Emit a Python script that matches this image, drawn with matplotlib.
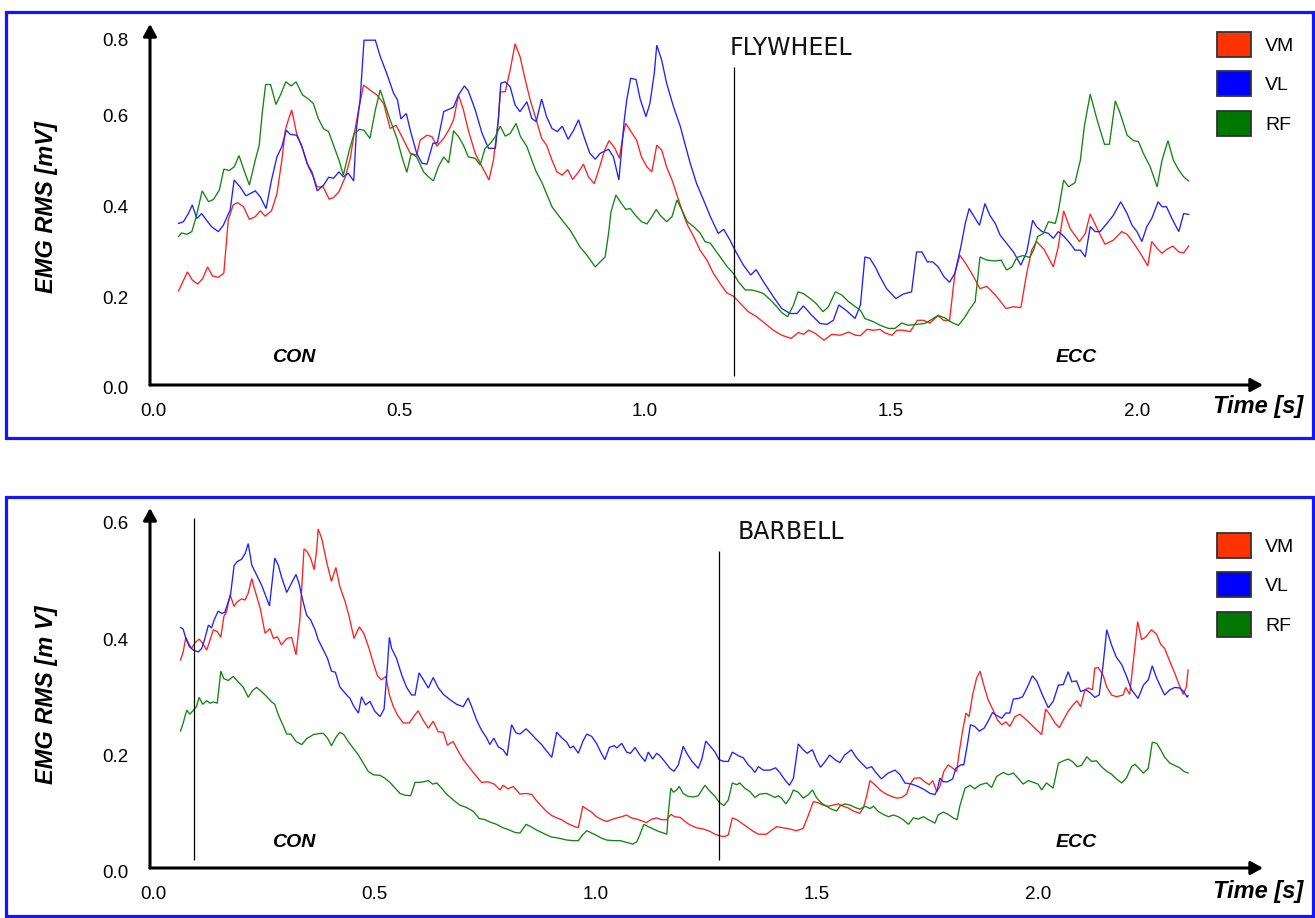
import matplotlib
matplotlib.use("Agg")
import matplotlib.pyplot as plt
import numpy as np
from matplotlib.patches import Rectangle, Patch
from matplotlib.transforms import ScaledTranslation

plt.rcParams['font.family'] = ['Liberation Sans', 'DejaVu Sans']

# ---------------- data ----------------
series_names = ['VM', 'VL', 'RF']
x_ticks = [0.0, 0.5, 1.0, 1.5, 2.0]
x_tick_labels = ['0.0', '0.5', '1.0', '1.5', '2.0']
fly_y_tick_labels = ['0.0', '0.2', '0.4', '0.6', '0.8']
bar_y_tick_labels = ['0.0', '0.2', '0.4', '0.6']

# FLYWHEEL (time s, EMG RMS mV)
fly_vm = [(0.058,0.208),(0.076,0.250),(0.086,0.232),(0.097,0.223),(0.107,0.235),(0.117,0.261),(0.127,0.241),(0.139,0.238),(0.150,0.247),(0.159,0.364),(0.169,0.398),(0.178,0.403),(0.190,0.394),(0.202,0.366),(0.214,0.372),(0.224,0.385),(0.234,0.373),(0.247,0.385),(0.258,0.423),(0.268,0.497),(0.275,0.563),(0.280,0.582),(0.288,0.608),(0.298,0.556),(0.312,0.516),(0.322,0.482),(0.332,0.460),(0.339,0.438),(0.352,0.438),(0.364,0.411),(0.373,0.414),(0.384,0.427),(0.397,0.460),(0.407,0.501),(0.414,0.549),(0.424,0.608),(0.434,0.663),(0.447,0.652),(0.461,0.641),(0.475,0.622),(0.488,0.567),(0.500,0.574),(0.512,0.549),(0.529,0.512),(0.542,0.508),(0.549,0.541),(0.563,0.552),(0.573,0.549),(0.583,0.528),(0.597,0.545),(0.607,0.563),(0.617,0.586),(0.627,0.641),(0.637,0.608),(0.647,0.563),(0.661,0.512),(0.675,0.482),(0.689,0.453),(0.698,0.497),(0.708,0.586),(0.712,0.648),(0.722,0.648),(0.732,0.696),(0.742,0.754),(0.752,0.726),(0.762,0.678),(0.772,0.633),(0.785,0.586),(0.796,0.545),(0.806,0.530),(0.817,0.497),(0.827,0.471),(0.838,0.464),(0.849,0.476),(0.859,0.454),(0.871,0.471),(0.881,0.488),(0.891,0.460),(0.903,0.445),(0.915,0.486),(0.924,0.519),(0.933,0.540),(0.945,0.523),(0.954,0.501),(0.962,0.556),(0.967,0.578),(0.976,0.563),(0.989,0.541),(0.999,0.504),(1.010,0.482),(1.020,0.471),(1.030,0.530),(1.040,0.519),(1.050,0.482),(1.061,0.453),(1.071,0.420),(1.081,0.387),(1.091,0.357),(1.105,0.328),(1.118,0.298),(1.132,0.276),(1.145,0.247),(1.159,0.224),(1.172,0.204),(1.186,0.196),(1.200,0.180),(1.216,0.162),(1.233,0.151),(1.250,0.136),(1.267,0.121),(1.284,0.110),(1.303,0.103),(1.318,0.116),(1.328,0.112),(1.339,0.121),(1.352,0.114),(1.370,0.099),(1.386,0.112),(1.403,0.110),(1.420,0.117),(1.434,0.110),(1.444,0.109),(1.457,0.123),(1.470,0.121),(1.484,0.123),(1.494,0.115),(1.508,0.110),(1.518,0.121),(1.531,0.121),(1.545,0.118),(1.560,0.143),(1.572,0.143),(1.585,0.137),(1.602,0.153),(1.613,0.143),(1.625,0.142),(1.636,0.247),(1.646,0.287),(1.657,0.270),(1.670,0.247),(1.687,0.213),(1.701,0.218),(1.718,0.199),(1.740,0.169),(1.755,0.173),(1.770,0.171),(1.782,0.247),(1.792,0.298),(1.802,0.317),(1.817,0.300),(1.836,0.261),(1.846,0.305),(1.857,0.385),(1.870,0.346),(1.889,0.317),(1.901,0.335),(1.911,0.378),(1.925,0.346),(1.941,0.311),(1.958,0.320),(1.975,0.339),(1.986,0.333),(1.999,0.314),(2.013,0.291),(2.028,0.263),(2.036,0.317),(2.047,0.302),(2.057,0.291),(2.067,0.300),(2.079,0.307),(2.091,0.294),(2.101,0.292),(2.111,0.307)]

fly_vl = [(0.058,0.357),(0.068,0.361),(0.078,0.379),(0.086,0.398),(0.095,0.368),(0.105,0.379),(0.115,0.364),(0.125,0.350),(0.139,0.339),(0.149,0.353),(0.163,0.387),(0.171,0.453),(0.183,0.438),(0.195,0.418),(0.214,0.429),(0.224,0.416),(0.236,0.390),(0.247,0.453),(0.258,0.504),(0.268,0.527),(0.277,0.563),(0.285,0.554),(0.298,0.552),(0.308,0.530),(0.319,0.490),(0.329,0.471),(0.340,0.429),(0.353,0.442),(0.363,0.459),(0.373,0.457),(0.384,0.471),(0.393,0.460),(0.403,0.468),(0.414,0.451),(0.420,0.571),(0.427,0.630),(0.435,0.762),(0.458,0.762),(0.468,0.726),(0.481,0.689),(0.495,0.645),(0.503,0.630),(0.510,0.588),(0.521,0.600),(0.529,0.563),(0.542,0.512),(0.553,0.490),(0.563,0.488),(0.575,0.534),(0.584,0.535),(0.597,0.604),(0.617,0.614),(0.627,0.641),(0.639,0.661),(0.647,0.650),(0.661,0.608),(0.675,0.556),(0.688,0.523),(0.702,0.523),(0.708,0.586),(0.713,0.667),(0.722,0.670),(0.732,0.659),(0.742,0.619),(0.752,0.604),(0.766,0.626),(0.776,0.589),(0.785,0.582),(0.796,0.632),(0.806,0.593),(0.817,0.567),(0.828,0.560),(0.838,0.572),(0.850,0.543),(0.861,0.563),(0.871,0.586),(0.882,0.549),(0.894,0.512),(0.905,0.499),(0.915,0.512),(0.932,0.521),(0.942,0.504),(0.953,0.453),(0.959,0.527),(0.964,0.586),(0.969,0.630),(0.977,0.678),(0.988,0.675),(0.996,0.633),(1.008,0.593),(1.016,0.622),(1.025,0.689),(1.030,0.751),(1.040,0.718),(1.050,0.667),(1.064,0.615),(1.078,0.571),(1.088,0.530),(1.098,0.490),(1.111,0.445),(1.125,0.409),(1.139,0.372),(1.155,0.335),(1.166,0.344),(1.179,0.320),(1.189,0.298),(1.206,0.265),(1.221,0.243),(1.232,0.255),(1.247,0.228),(1.267,0.195),(1.284,0.169),(1.301,0.158),(1.315,0.158),(1.328,0.175),(1.345,0.154),(1.362,0.136),(1.376,0.134),(1.389,0.143),(1.400,0.177),(1.417,0.163),(1.433,0.147),(1.444,0.177),(1.453,0.283),(1.463,0.280),(1.474,0.261),(1.484,0.239),(1.497,0.213),(1.516,0.191),(1.531,0.201),(1.548,0.206),(1.558,0.294),(1.569,0.294),(1.580,0.272),(1.591,0.272),(1.602,0.261),(1.614,0.239),(1.625,0.227),(1.636,0.247),(1.648,0.305),(1.657,0.357),(1.665,0.390),(1.675,0.372),(1.686,0.353),(1.697,0.401),(1.707,0.375),(1.718,0.357),(1.728,0.331),(1.741,0.313),(1.755,0.294),(1.770,0.265),(1.782,0.294),(1.794,0.364),(1.802,0.350),(1.813,0.339),(1.826,0.335),(1.836,0.324),(1.846,0.339),(1.858,0.328),(1.870,0.313),(1.880,0.298),(1.891,0.298),(1.901,0.283),(1.911,0.350),(1.921,0.339),(1.931,0.339),(1.945,0.357),(1.958,0.375),(1.973,0.405),(1.986,0.379),(1.996,0.353),(2.006,0.339),(2.016,0.317),(2.026,0.350),(2.036,0.368),(2.049,0.405),(2.057,0.394),(2.066,0.394),(2.077,0.368),(2.091,0.339),(2.101,0.379),(2.111,0.377)]

fly_rf = [(0.058,0.328),(0.064,0.336),(0.075,0.333),(0.085,0.339),(0.094,0.372),(0.106,0.429),(0.119,0.405),(0.129,0.410),(0.141,0.431),(0.150,0.477),(0.161,0.474),(0.171,0.482),(0.181,0.507),(0.191,0.475),(0.202,0.442),(0.214,0.497),(0.222,0.530),(0.228,0.600),(0.235,0.664),(0.245,0.664),(0.256,0.620),(0.266,0.643),(0.276,0.670),(0.287,0.661),(0.297,0.670),(0.310,0.641),(0.322,0.632),(0.332,0.622),(0.342,0.589),(0.353,0.566),(0.363,0.560),(0.373,0.530),(0.384,0.497),(0.393,0.464),(0.405,0.519),(0.415,0.556),(0.426,0.565),(0.435,0.563),(0.447,0.545),(0.458,0.608),(0.468,0.652),(0.478,0.619),(0.488,0.586),(0.502,0.545),(0.512,0.504),(0.522,0.470),(0.531,0.512),(0.542,0.504),(0.556,0.471),(0.566,0.460),(0.576,0.451),(0.586,0.482),(0.597,0.504),(0.607,0.491),(0.617,0.562),(0.627,0.549),(0.637,0.530),(0.647,0.504),(0.661,0.501),(0.671,0.486),(0.681,0.523),(0.692,0.534),(0.702,0.549),(0.712,0.572),(0.722,0.550),(0.732,0.556),(0.744,0.578),(0.753,0.549),(0.766,0.527),(0.776,0.497),(0.785,0.471),(0.796,0.449),(0.806,0.423),(0.817,0.394),(0.830,0.375),(0.840,0.361),(0.854,0.342),(0.864,0.324),(0.874,0.305),(0.888,0.287),(0.905,0.261),(0.915,0.272),(0.925,0.283),(0.932,0.335),(0.937,0.383),(0.947,0.420),(0.957,0.403),(0.967,0.388),(0.976,0.390),(0.989,0.372),(0.999,0.361),(1.010,0.356),(1.020,0.372),(1.029,0.388),(1.037,0.375),(1.050,0.361),(1.061,0.372),(1.071,0.409),(1.081,0.387),(1.092,0.361),(1.105,0.350),(1.118,0.336),(1.128,0.317),(1.139,0.313),(1.149,0.298),(1.159,0.283),(1.172,0.263),(1.186,0.246),(1.196,0.228),(1.210,0.210),(1.223,0.210),(1.237,0.206),(1.247,0.202),(1.261,0.188),(1.274,0.173),(1.284,0.160),(1.296,0.151),(1.308,0.177),(1.317,0.206),(1.328,0.202),(1.342,0.191),(1.354,0.180),(1.368,0.162),(1.379,0.173),(1.393,0.206),(1.406,0.199),(1.420,0.184),(1.434,0.173),(1.444,0.165),(1.453,0.147),(1.470,0.140),(1.484,0.132),(1.501,0.125),(1.514,0.125),(1.528,0.137),(1.541,0.132),(1.558,0.134),(1.575,0.136),(1.589,0.145),(1.602,0.154),(1.616,0.148),(1.630,0.138),(1.643,0.132),(1.655,0.148),(1.667,0.169),(1.677,0.184),(1.682,0.232),(1.687,0.283),(1.701,0.276),(1.718,0.274),(1.730,0.276),(1.741,0.254),(1.752,0.261),(1.762,0.282),(1.774,0.286),(1.788,0.282),(1.796,0.298),(1.804,0.328),(1.816,0.335),(1.826,0.361),(1.840,0.357),(1.846,0.383),(1.857,0.453),(1.867,0.438),(1.880,0.447),(1.891,0.497),(1.899,0.571),(1.911,0.643),(1.925,0.586),(1.940,0.532),(1.950,0.532),(1.962,0.628),(1.972,0.600),(1.986,0.552),(1.999,0.540),(2.009,0.538),(2.019,0.512),(2.033,0.482),(2.047,0.438),(2.057,0.497),(2.069,0.540),(2.080,0.497),(2.091,0.475),(2.101,0.460),(2.111,0.451)]

# BARBELL (time s, EMG RMS mV)
bar_vm = [(0.069,0.357),(0.075,0.371),(0.081,0.396),(0.089,0.383),(0.094,0.377),(0.102,0.387),(0.111,0.393),(0.119,0.386),(0.128,0.374),(0.136,0.392),(0.143,0.409),(0.152,0.406),(0.160,0.396),(0.167,0.432),(0.173,0.440),(0.181,0.469),(0.190,0.449),(0.197,0.457),(0.207,0.462),(0.215,0.460),(0.222,0.472),(0.230,0.497),(0.237,0.477),(0.249,0.446),(0.260,0.403),(0.271,0.411),(0.279,0.394),(0.288,0.397),(0.297,0.383),(0.309,0.394),(0.320,0.396),(0.330,0.366),(0.339,0.429),(0.348,0.548),(0.355,0.543),(0.363,0.532),(0.371,0.512),(0.377,0.549),(0.380,0.582),(0.388,0.566),(0.399,0.526),(0.410,0.492),(0.420,0.516),(0.429,0.483),(0.441,0.457),(0.450,0.432),(0.461,0.394),(0.473,0.414),(0.483,0.403),(0.495,0.377),(0.505,0.351),(0.514,0.330),(0.523,0.323),(0.533,0.329),(0.541,0.297),(0.550,0.277),(0.559,0.263),(0.572,0.249),(0.586,0.249),(0.596,0.260),(0.606,0.270),(0.617,0.254),(0.629,0.240),(0.640,0.252),(0.651,0.234),(0.663,0.233),(0.672,0.211),(0.685,0.217),(0.697,0.200),(0.708,0.186),(0.723,0.171),(0.738,0.157),(0.749,0.147),(0.764,0.148),(0.778,0.144),(0.791,0.134),(0.798,0.142),(0.809,0.136),(0.821,0.140),(0.836,0.127),(0.851,0.128),(0.863,0.126),(0.874,0.115),(0.885,0.106),(0.896,0.097),(0.908,0.090),(0.919,0.086),(0.930,0.083),(0.942,0.077),(0.957,0.072),(0.968,0.069),(0.978,0.106),(0.987,0.101),(0.998,0.096),(1.009,0.088),(1.021,0.083),(1.032,0.080),(1.043,0.083),(1.055,0.086),(1.066,0.088),(1.077,0.091),(1.088,0.086),(1.100,0.084),(1.111,0.081),(1.122,0.078),(1.134,0.084),(1.145,0.086),(1.156,0.083),(1.168,0.083),(1.177,0.092),(1.186,0.088),(1.198,0.087),(1.209,0.080),(1.220,0.074),(1.235,0.069),(1.250,0.067),(1.265,0.063),(1.277,0.058),(1.288,0.055),(1.299,0.054),(1.307,0.057),(1.316,0.086),(1.326,0.083),(1.341,0.075),(1.352,0.069),(1.363,0.063),(1.375,0.058),(1.393,0.058),(1.405,0.065),(1.416,0.071),(1.431,0.069),(1.446,0.067),(1.461,0.064),(1.476,0.068),(1.488,0.091),(1.499,0.114),(1.510,0.112),(1.521,0.108),(1.533,0.106),(1.544,0.108),(1.555,0.110),(1.567,0.106),(1.578,0.103),(1.589,0.098),(1.604,0.094),(1.612,0.103),(1.620,0.125),(1.627,0.150),(1.638,0.143),(1.650,0.134),(1.661,0.128),(1.672,0.124),(1.687,0.120),(1.699,0.121),(1.710,0.127),(1.717,0.143),(1.727,0.154),(1.740,0.155),(1.751,0.148),(1.761,0.143),(1.769,0.150),(1.778,0.131),(1.785,0.140),(1.794,0.166),(1.804,0.177),(1.815,0.171),(1.823,0.166),(1.829,0.200),(1.836,0.234),(1.844,0.266),(1.851,0.260),(1.859,0.297),(1.868,0.326),(1.876,0.338),(1.883,0.317),(1.894,0.289),(1.906,0.270),(1.915,0.254),(1.925,0.246),(1.934,0.251),(1.943,0.243),(1.955,0.260),(1.966,0.264),(1.981,0.254),(1.996,0.243),(2.015,0.229),(2.024,0.273),(2.034,0.263),(2.045,0.249),(2.055,0.241),(2.064,0.254),(2.075,0.269),(2.086,0.280),(2.095,0.287),(2.103,0.277),(2.113,0.306),(2.120,0.309),(2.130,0.306),(2.135,0.343),(2.143,0.344),(2.154,0.331),(2.162,0.311),(2.173,0.297),(2.184,0.294),(2.199,0.297),(2.205,0.310),(2.214,0.298),(2.222,0.354),(2.232,0.423),(2.241,0.392),(2.251,0.397),(2.263,0.409),(2.275,0.401),(2.284,0.384),(2.293,0.377),(2.305,0.354),(2.316,0.334),(2.326,0.314),(2.335,0.298),(2.342,0.311),(2.346,0.340)]

bar_vl = [(0.069,0.413),(0.075,0.410),(0.081,0.394),(0.089,0.380),(0.098,0.374),(0.109,0.371),(0.117,0.377),(0.124,0.394),(0.132,0.417),(0.139,0.412),(0.145,0.426),(0.154,0.441),(0.162,0.437),(0.169,0.439),(0.177,0.457),(0.182,0.469),(0.190,0.519),(0.197,0.526),(0.207,0.530),(0.215,0.540),(0.222,0.557),(0.230,0.520),(0.241,0.503),(0.252,0.486),(0.262,0.466),(0.270,0.450),(0.277,0.497),(0.282,0.532),(0.290,0.520),(0.297,0.500),(0.309,0.473),(0.319,0.488),(0.330,0.504),(0.337,0.488),(0.345,0.460),(0.354,0.434),(0.363,0.426),(0.373,0.409),(0.380,0.392),(0.392,0.374),(0.401,0.360),(0.410,0.338),(0.419,0.336),(0.429,0.311),(0.441,0.300),(0.452,0.291),(0.461,0.277),(0.471,0.266),(0.478,0.294),(0.487,0.280),(0.497,0.286),(0.508,0.269),(0.520,0.260),(0.529,0.273),(0.535,0.331),(0.541,0.396),(0.546,0.377),(0.557,0.360),(0.569,0.331),(0.580,0.310),(0.591,0.297),(0.599,0.297),(0.608,0.335),(0.618,0.323),(0.629,0.309),(0.640,0.327),(0.651,0.310),(0.663,0.298),(0.678,0.289),(0.693,0.281),(0.708,0.277),(0.719,0.292),(0.727,0.277),(0.738,0.254),(0.749,0.237),(0.761,0.223),(0.768,0.212),(0.777,0.223),(0.787,0.208),(0.798,0.203),(0.807,0.193),(0.817,0.246),(0.827,0.232),(0.836,0.230),(0.850,0.239),(0.863,0.229),(0.874,0.220),(0.885,0.212),(0.896,0.201),(0.908,0.190),(0.919,0.233),(0.930,0.224),(0.942,0.216),(0.949,0.206),(0.957,0.209),(0.968,0.197),(0.978,0.217),(0.987,0.230),(0.998,0.226),(1.009,0.214),(1.018,0.200),(1.028,0.186),(1.038,0.207),(1.049,0.210),(1.055,0.206),(1.066,0.214),(1.077,0.199),(1.086,0.197),(1.096,0.207),(1.107,0.194),(1.119,0.183),(1.126,0.199),(1.136,0.187),(1.145,0.197),(1.152,0.193),(1.164,0.182),(1.175,0.171),(1.184,0.166),(1.194,0.177),(1.205,0.209),(1.213,0.197),(1.224,0.184),(1.239,0.171),(1.247,0.187),(1.256,0.218),(1.265,0.210),(1.277,0.199),(1.286,0.186),(1.297,0.183),(1.307,0.183),(1.316,0.199),(1.329,0.193),(1.341,0.189),(1.352,0.177),(1.360,0.171),(1.367,0.164),(1.375,0.174),(1.386,0.168),(1.401,0.168),(1.414,0.172),(1.424,0.163),(1.435,0.151),(1.445,0.142),(1.454,0.154),(1.465,0.213),(1.476,0.203),(1.485,0.197),(1.497,0.203),(1.506,0.186),(1.515,0.173),(1.525,0.182),(1.536,0.194),(1.548,0.186),(1.559,0.181),(1.570,0.194),(1.585,0.203),(1.595,0.191),(1.604,0.183),(1.620,0.171),(1.631,0.174),(1.638,0.166),(1.653,0.153),(1.668,0.163),(1.684,0.168),(1.695,0.160),(1.706,0.146),(1.721,0.144),(1.736,0.140),(1.751,0.134),(1.763,0.128),(1.774,0.126),(1.779,0.134),(1.785,0.154),(1.793,0.148),(1.802,0.148),(1.814,0.153),(1.821,0.171),(1.832,0.177),(1.839,0.177),(1.847,0.211),(1.854,0.246),(1.864,0.243),(1.874,0.235),(1.885,0.240),(1.894,0.252),(1.904,0.267),(1.913,0.262),(1.925,0.257),(1.934,0.266),(1.943,0.266),(1.951,0.290),(1.962,0.291),(1.972,0.294),(1.983,0.311),(1.994,0.330),(2.004,0.321),(2.015,0.300),(2.030,0.275),(2.041,0.286),(2.053,0.314),(2.064,0.315),(2.075,0.337),(2.083,0.320),(2.094,0.321),(2.103,0.303),(2.115,0.306),(2.126,0.300),(2.135,0.293),(2.145,0.297),(2.154,0.349),(2.162,0.409),(2.173,0.383),(2.183,0.363),(2.196,0.349),(2.207,0.329),(2.218,0.306),(2.233,0.291),(2.245,0.314),(2.256,0.323),(2.265,0.347),(2.275,0.326),(2.284,0.311),(2.293,0.297),(2.305,0.306),(2.316,0.310),(2.327,0.309),(2.336,0.303),(2.344,0.293),(2.346,0.296)]

bar_rf = [(0.069,0.235),(0.075,0.249),(0.083,0.271),(0.090,0.264),(0.098,0.271),(0.105,0.277),(0.111,0.293),(0.119,0.281),(0.128,0.287),(0.136,0.283),(0.143,0.285),(0.152,0.283),(0.160,0.338),(0.167,0.325),(0.177,0.322),(0.188,0.329),(0.200,0.319),(0.211,0.310),(0.222,0.293),(0.232,0.305),(0.241,0.310),(0.252,0.303),(0.264,0.294),(0.275,0.285),(0.282,0.281),(0.290,0.263),(0.300,0.246),(0.309,0.230),(0.318,0.230),(0.330,0.217),(0.343,0.212),(0.354,0.222),(0.369,0.229),(0.384,0.231),(0.392,0.231),(0.401,0.223),(0.410,0.210),(0.420,0.224),(0.429,0.233),(0.438,0.229),(0.448,0.217),(0.459,0.206),(0.471,0.194),(0.482,0.180),(0.493,0.166),(0.505,0.160),(0.520,0.159),(0.531,0.154),(0.542,0.147),(0.553,0.138),(0.565,0.128),(0.576,0.125),(0.589,0.124),(0.599,0.147),(0.608,0.147),(0.618,0.148),(0.629,0.150),(0.639,0.144),(0.648,0.146),(0.659,0.137),(0.670,0.127),(0.685,0.117),(0.700,0.108),(0.715,0.104),(0.731,0.097),(0.744,0.085),(0.757,0.083),(0.768,0.079),(0.783,0.075),(0.798,0.069),(0.813,0.065),(0.825,0.061),(0.836,0.060),(0.850,0.075),(0.863,0.070),(0.874,0.065),(0.885,0.061),(0.896,0.057),(0.908,0.053),(0.919,0.052),(0.930,0.050),(0.942,0.048),(0.957,0.047),(0.968,0.047),(0.978,0.057),(0.987,0.064),(0.998,0.060),(1.009,0.056),(1.021,0.051),(1.032,0.048),(1.047,0.047),(1.062,0.047),(1.077,0.044),(1.091,0.041),(1.100,0.045),(1.107,0.057),(1.116,0.075),(1.126,0.071),(1.137,0.067),(1.149,0.063),(1.160,0.060),(1.168,0.058),(1.171,0.091),(1.177,0.137),(1.183,0.130),(1.190,0.134),(1.196,0.140),(1.205,0.128),(1.216,0.123),(1.228,0.122),(1.239,0.124),(1.254,0.142),(1.265,0.132),(1.277,0.123),(1.286,0.113),(1.297,0.107),(1.307,0.117),(1.316,0.146),(1.326,0.143),(1.333,0.146),(1.344,0.137),(1.356,0.131),(1.367,0.121),(1.378,0.127),(1.393,0.128),(1.405,0.124),(1.412,0.121),(1.420,0.124),(1.427,0.120),(1.437,0.110),(1.446,0.120),(1.454,0.134),(1.465,0.130),(1.476,0.120),(1.488,0.126),(1.497,0.134),(1.506,0.121),(1.518,0.111),(1.529,0.106),(1.540,0.101),(1.552,0.098),(1.559,0.106),(1.570,0.110),(1.582,0.108),(1.593,0.104),(1.604,0.101),(1.616,0.106),(1.627,0.102),(1.635,0.106),(1.646,0.097),(1.657,0.092),(1.669,0.088),(1.680,0.091),(1.691,0.088),(1.702,0.083),(1.714,0.075),(1.725,0.086),(1.736,0.084),(1.748,0.088),(1.759,0.083),(1.774,0.077),(1.781,0.091),(1.793,0.096),(1.804,0.092),(1.815,0.086),(1.824,0.083),(1.830,0.106),(1.842,0.137),(1.853,0.142),(1.864,0.136),(1.876,0.143),(1.891,0.146),(1.902,0.138),(1.913,0.157),(1.928,0.164),(1.940,0.160),(1.951,0.163),(1.962,0.154),(1.973,0.144),(1.985,0.150),(1.996,0.147),(2.007,0.144),(2.015,0.134),(2.026,0.146),(2.041,0.137),(2.053,0.180),(2.064,0.184),(2.075,0.187),(2.086,0.182),(2.095,0.174),(2.105,0.176),(2.117,0.191),(2.128,0.183),(2.139,0.184),(2.150,0.174),(2.162,0.166),(2.173,0.161),(2.184,0.153),(2.196,0.146),(2.207,0.155),(2.218,0.174),(2.226,0.178),(2.235,0.171),(2.245,0.163),(2.256,0.171),(2.265,0.216),(2.275,0.214),(2.284,0.203),(2.293,0.190),(2.305,0.180),(2.316,0.176),(2.327,0.172),(2.336,0.166),(2.346,0.163)]

# phase markers (time s, from, to in mV)
fly_markers = [(1.187, 0.020, 0.703)]
bar_markers = [(0.100, 0.013, 0.601), (1.287, 0.013, 0.544)]

# ---------------- style ----------------
line_colors = ['#FF2020', '#2020FF', '#128412']
legend_colors = ['#FF3300', '#0000FF', '#007700']
border_color = '#1414FF'

W, H = 1315, 918
fig = plt.figure(figsize=(W / 100, H / 100), dpi=100)

def fx(px):
    return px / W

def fy(py):
    return 1 - py / H

panels = [
    dict(title='FLYWHEEL', data=[fly_vm, fly_vl, fly_rf], markers=fly_markers,
         ylabel='EMG RMS [mV]', yticklabels=fly_y_tick_labels,
         x0=150, x1=1263, y0=385, y1=24, px_per_s=492.0, px_per_mv=452.5,
         ytick_pos=[0.0, 0.2, 0.4, 0.6, 0.770], ylab_dy=2.5,
         border=(6, 12, 1313, 438), title_base=55, text_base=362,
         time_base=413, ylabel_y=207, legend_top=32),
    dict(title='BARBELL', data=[bar_vm, bar_vl, bar_rf], markers=bar_markers,
         ylabel='EMG RMS [m V]', yticklabels=bar_y_tick_labels,
         x0=150, x1=1263, y0=868, y1=508, px_per_s=442.5, px_per_mv=582.5,
         ytick_pos=[0.0, 0.2, 0.4, 0.6], ylab_dy=4.0,
         border=(6, 497, 1313, 916), title_base=539, text_base=847,
         time_base=898, ylabel_y=695, legend_top=533),
]

for p in panels:
    ax = fig.add_axes([fx(p['x0']), fy(p['y0']), (p['x1'] - p['x0']) / W,
                       (p['y0'] - p['y1']) / H])
    ax.set_xlim(0, (p['x1'] - p['x0']) / p['px_per_s'])
    ax.set_ylim(0, (p['y0'] - p['y1']) / p['px_per_mv'])
    ax.patch.set_visible(False)

    for series, col in zip(p['data'], line_colors):
        t, v = zip(*series)
        ax.plot(t, v, color=col, lw=0.95, solid_joinstyle='miter')

    for (tm, a, b) in p['markers']:
        ax.vlines(tm, a, b, color='black', lw=0.9)

    for s in ax.spines.values():
        s.set_visible(False)
    ax.annotate('', xy=(1, 0), xytext=(0, 0), xycoords='axes fraction',
                arrowprops=dict(arrowstyle='-|>,head_length=0.4,head_width=0.22',
                                lw=2.2, color='black', shrinkA=0, shrinkB=0,
                                mutation_scale=18))
    ax.annotate('', xy=(0, 1), xytext=(0, 0), xycoords='axes fraction',
                arrowprops=dict(arrowstyle='-|>,head_length=0.4,head_width=0.22',
                                lw=2.2, color='black', shrinkA=0, shrinkB=0,
                                mutation_scale=18))

    ax.set_xticks(x_ticks)
    ax.set_xticklabels(x_tick_labels)
    ax.set_yticks(p['ytick_pos'])
    ax.set_yticklabels(p['yticklabels'])
    ax.tick_params(axis='x', length=0, labelsize=13.5, pad=13)
    ax.tick_params(axis='y', length=0, labelsize=13.5, pad=15.5)
    for lab in ax.get_xticklabels():
        lab.set_transform(lab.get_transform() + ScaledTranslation(0.03, 0, fig.dpi_scale_trans))
    for lab in ax.get_yticklabels():
        lab.set_transform(lab.get_transform() + ScaledTranslation(0, -p['ylab_dy'] / 100, fig.dpi_scale_trans))

    # texts
    fig.text(fx(46), fy(p['ylabel_y']), p['ylabel'], rotation=90, ha='center', va='center',
             fontsize=17, fontweight='bold', fontstyle='italic')
    fig.text(fx(1258), fy(p['time_base']), 'Time [s]', ha='center', va='baseline',
             fontsize=17, fontweight='bold', fontstyle='italic')
    fig.text(fx(294), fy(p['text_base']), 'CON', ha='center', va='baseline',
             fontsize=14, fontweight='bold', fontstyle='italic')
    fig.text(fx(1076), fy(p['text_base']), 'ECC', ha='center', va='baseline',
             fontsize=14, fontweight='bold', fontstyle='italic')
    fig.text(fx(791), fy(p['title_base']), p['title'], ha='center', va='baseline',
             fontsize=17, family=['DejaVu Sans'], color='#111111')

    handles = [Patch(facecolor=c, edgecolor='#333333', lw=1.3, label=n)
               for c, n in zip(legend_colors, series_names)]
    ax.legend(handles=handles, loc='upper left',
              bbox_to_anchor=(fx(1217), fy(p['legend_top'])),
              bbox_transform=fig.transFigure, frameon=False, fontsize=14,
              handlelength=1.75, handleheight=1.60, labelspacing=0.746,
              handletextpad=0.72, borderpad=0, borderaxespad=0)

    bx0, by0, bx1, by1 = p['border']
    fig.add_artist(Rectangle((fx(bx0), fy(by1)), (bx1 - bx0) / W, (by1 - by0) / H,
                             transform=fig.transFigure, fill=False,
                             edgecolor=border_color, lw=2.3))

fig.savefig('out.png', dpi=100)
